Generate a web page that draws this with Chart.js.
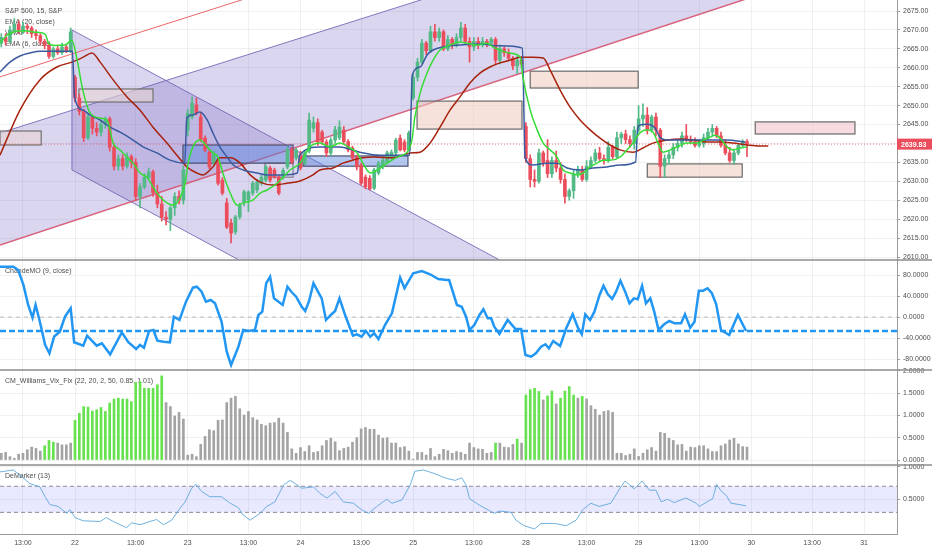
<!DOCTYPE html>
<html>
<head>
<meta charset="utf-8">
<title>S&amp;P 500, 15</title>
<script src="https://cdn.jsdelivr.net/npm/chart.js@4.4.1/dist/chart.umd.min.js"></script>
<style>
    html, body { margin: 0; padding: 0; background: #ffffff; }
    #wrap { width: 932px; height: 550px; }
</style>
</head>
<body>
<div id="wrap"><canvas id="spxChart" width="932" height="550"></canvas></div>
<script>
'use strict';

/* S&P 500, 15 min, four panes
 * ---------------------------
 * x values are bar numbers, 0 = first 15 min bar on screen
 */

// time axis
var tickIdx = [5, 17, 31, 43, 57, 69, 83, 95, 109, 121, 135, 147, 161, 173, 187, 199];
var tickLabels = ['13:00', '22', '13:00', '23', '13:00', '24', '13:00', '25',
    '13:00', '28', '13:00', '29', '13:00', '30', '13:00', '31'];

// price axis ticks, and the oscillator axes
var priceTicks = [2610, 2615, 2620, 2625, 2630, 2635, 2640, 2645, 2650, 2655, 2660, 2665, 2670, 2675];
var cmoTicks = [-80, -40, 0, 40, 80];
var vixTicks = [0, 0.5, 1, 1.5, 2];
var demTicks = [0.5, 1];

// candles, one line per session
var opens = [
    2666.5, 2668, 2667, 2670, 2671.5, 2670, 2671, 2670.5, 2669, 2668.5, 2667, 2666, 2663, 2665, 2664, 2665.5, 2664.5,
    2657.5, 2652, 2648.5, 2641.5, 2647, 2644, 2643, 2645, 2646.5, 2639, 2634, 2636, 2634, 2636.5, 2635, 2626, 2628.5, 2631, 2632.5, 2627, 2624, 2620.5, 2620, 2623, 2626, 2625,
    2643.6, 2647, 2650.2, 2647, 2641.4, 2637.7, 2635, 2635.1, 2630.3, 2624.3, 2619, 2616.6, 2620.6, 2624.3, 2625.1, 2626.9, 2627.7, 2629.5, 2630.3, 2633.5, 2633, 2631.1, 2631.1, 2633.8, 2638.3, 2636.2,
    2636.9, 2634.8, 2638, 2644, 2645.5, 2643, 2640.4, 2637.5, 2640.9, 2641.5, 2643.5, 2640.5, 2638.8, 2636.4, 2634.3, 2631.1, 2630.8, 2628.2, 2632.2, 2633.8, 2635, 2636.2, 2637.5, 2641.4, 2640.4, 2638.3,
    2652, 2657.5, 2661.5, 2666.5, 2664.5, 2669.5, 2668, 2669.5, 2665, 2667.5, 2666, 2668, 2670.5, 2667, 2665.5, 2667, 2666, 2667, 2666.5, 2667.5, 2662, 2665, 2664, 2662.5, 2660.5, 2662,
    2644.5, 2636, 2630.5, 2630, 2637.5, 2635.5, 2632, 2635.5, 2633.5, 2630.5, 2626, 2627.5, 2632, 2633, 2630.5, 2634, 2635.5, 2637.5, 2636, 2635.5, 2639, 2636.5, 2641.5, 2642.5, 2641, 2640,
    2643.5, 2646.5, 2647.5, 2643.5, 2647, 2643.5, 2634, 2636, 2637, 2639, 2640, 2642, 2641, 2640.5, 2639.5, 2640, 2641.5, 2643, 2644, 2642, 2639.5, 2637.5, 2635.5, 2637.5, 2639.5, 2640.5
];
var highs = [
    2669, 2669, 2671, 2673, 2672.5, 2672, 2671.5, 2671, 2670, 2669, 2667.5, 2666.5, 2665.5, 2666, 2666.5, 2666, 2670.5,
    2658, 2653, 2649, 2648, 2647.5, 2645.5, 2646, 2647, 2647, 2640, 2637, 2637, 2637.5, 2637, 2636, 2629.5, 2632, 2633.5, 2633, 2629, 2626, 2622, 2623.5, 2627, 2627.5, 2634,
    2649, 2652.3, 2652, 2648, 2642, 2638.5, 2638, 2636, 2631, 2625.5, 2620, 2621, 2624.2, 2627.7, 2627.5, 2630, 2630.5, 2631.6, 2634.3, 2634, 2633.5, 2631.6, 2633.5, 2639, 2639, 2638.8,
    2638, 2638, 2648, 2647, 2646.5, 2643.5, 2641, 2641.5, 2644.5, 2646, 2644.5, 2641, 2639.3, 2636.9, 2634.8, 2631.7, 2631.5, 2633.5, 2635.3, 2636.2, 2638, 2638.3, 2641.4, 2642.3, 2641, 2643.3,
    2658.5, 2662.5, 2667.5, 2667, 2671, 2671.5, 2670.5, 2670, 2668.5, 2668, 2669, 2672, 2671.5, 2668, 2668, 2668, 2668, 2667.5, 2668, 2668, 2666, 2665.5, 2665, 2663, 2663, 2663,
    2645.5, 2637, 2633, 2638.5, 2638, 2641, 2636.5, 2638, 2635, 2632, 2628, 2633, 2634, 2634, 2635.5, 2636.5, 2638.5, 2639, 2637, 2640.5, 2639.5, 2643, 2643, 2643.5, 2642, 2644.5,
    2650, 2650.5, 2649.5, 2647.5, 2648, 2644, 2637, 2638, 2640, 2641, 2643, 2645, 2642, 2641.5, 2641, 2642.5, 2644, 2645, 2644.5, 2643, 2641, 2639, 2638.5, 2640, 2641, 2641
];
var lows = [
    2665.5, 2666, 2666.5, 2669.5, 2669, 2669, 2669, 2668, 2667.5, 2666, 2665, 2662.5, 2662.5, 2663.5, 2663.5, 2664, 2664,
    2651, 2647.5, 2640.5, 2641, 2642.5, 2642, 2642, 2644, 2638, 2633, 2633, 2633, 2633.5, 2633.5, 2625, 2623, 2628, 2630.5, 2626, 2623, 2619.5, 2618.5, 2617, 2621, 2624, 2624,
    2642, 2646.5, 2647.5, 2640.5, 2637.8, 2633.3, 2634.5, 2629, 2626.4, 2617.5, 2613.7, 2616, 2620, 2623.5, 2622, 2626.3, 2627, 2629, 2629.8, 2629.8, 2630.8, 2626.4, 2630.5, 2633.3, 2634.6, 2635.6,
    2633, 2634.3, 2637.5, 2643, 2639.5, 2639.8, 2636.5, 2636.9, 2640, 2641, 2640, 2637.8, 2635.6, 2633, 2629, 2628, 2627.7, 2627.8, 2631.7, 2633.3, 2634.6, 2635.8, 2637, 2638, 2637.8, 2638,
    2651.5, 2656.5, 2661, 2663.5, 2664, 2667, 2667, 2664.5, 2664.5, 2665, 2665.5, 2667, 2666.5, 2661.5, 2664.5, 2665, 2665.5, 2665.5, 2666, 2661, 2661, 2663, 2662, 2659.5, 2658.5, 2660,
    2635, 2628.5, 2628.5, 2629.5, 2634, 2631, 2631, 2632.5, 2629.5, 2624.2, 2625, 2625.5, 2631, 2630, 2630, 2633.5, 2635, 2635.5, 2634.5, 2635, 2636, 2636, 2640, 2640, 2639, 2638.5,
    2643, 2644.5, 2642.5, 2643, 2642, 2631, 2631, 2634.5, 2636, 2638, 2639, 2640.5, 2640, 2639, 2639, 2639, 2641, 2642, 2641.5, 2639, 2637, 2635, 2634.5, 2637, 2639, 2636.5
];
var closes = [
    2668, 2667, 2670, 2671.5, 2670, 2671, 2670.5, 2669, 2668.5, 2667, 2666, 2663, 2665, 2664, 2665.5, 2664.5, 2669.5,
    2652, 2648.5, 2641.5, 2647, 2644, 2643, 2645, 2646.5, 2639, 2634, 2636, 2634, 2636.5, 2635, 2626, 2628.5, 2631, 2632.5, 2627, 2624, 2620.5, 2620, 2623, 2626, 2625, 2633,
    2648, 2650.7, 2648, 2641, 2638.3, 2633.8, 2637, 2629.5, 2626.9, 2617.9, 2616.3, 2620.6, 2623.7, 2627.2, 2627.2, 2629.5, 2629.8, 2631.1, 2633.8, 2630.3, 2631.1, 2626.9, 2632.9, 2638.3, 2635.1, 2638.3,
    2633.5, 2637.5, 2646.2, 2645.5, 2640.4, 2640.4, 2637.5, 2640.9, 2643.6, 2644.3, 2640.5, 2638.3, 2636.2, 2633.8, 2629.5, 2628.5, 2628, 2633, 2634.8, 2635.6, 2637.5, 2637.7, 2640.9, 2638.3, 2638.3, 2642.8,
    2657.5, 2661.5, 2666.5, 2664.5, 2669.5, 2668, 2669.5, 2665, 2667.5, 2666, 2668, 2670.5, 2667, 2665.5, 2667, 2666, 2667, 2666.5, 2667.5, 2662, 2665, 2664, 2662.5, 2660.5, 2662, 2661,
    2636, 2630.5, 2630, 2637.5, 2635, 2632, 2635.5, 2633.5, 2630.5, 2626, 2627.5, 2632, 2633, 2630.5, 2634, 2635.5, 2637.5, 2636, 2635.5, 2639, 2636.5, 2641.5, 2642.5, 2641, 2640, 2643.5,
    2646.5, 2647.5, 2643.5, 2647, 2643.5, 2634, 2636, 2637, 2639, 2640, 2642, 2641, 2640.5, 2639.5, 2640, 2641.5, 2643, 2644, 2642, 2639.5, 2637.5, 2635.5, 2637.5, 2639.5, 2640.5, 2639.83
];

// overlays: [bar, price]
var emaFast = [[-0.3, 2666.5], [1.3, 2668.6], [3.2, 2669.6], [5.5, 2669.8], [7.8, 2669.4], [10.1, 2668.9], [11.0, 2666.3], [12.4, 2665.9], [14.7, 2666.0],
    [16.3, 2667.3], [17.5, 2662.0], [18.8, 2654.1], [20.5, 2648.0], [22.8, 2646.7], [24.4, 2646.2], [25.8, 2640.1], [27.4, 2638.3],
    [29.0, 2636.4], [30.4, 2634.8], [32.0, 2632.2], [33.6, 2631.1], [35.0, 2628.5], [36.6, 2625.9], [38.2, 2624.3], [39.6, 2623.7],
    [41.2, 2625.6], [42.4, 2629.5], [43.1, 2634.8], [44.2, 2639.1], [45.8, 2640.9], [47.5, 2639.1], [48.8, 2637.5], [50.0, 2636.4],
    [51.1, 2632.2], [52.8, 2626.9], [54.4, 2623.7], [55.8, 2624.3], [58.1, 2625.1], [59.7, 2626.9], [61.3, 2627.7], [63.6, 2629.5],
    [65.0, 2631.1], [66.6, 2633.0], [68.9, 2634.8], [71.2, 2639.1], [73.5, 2640.1], [75.8, 2639.1], [78.1, 2640.1], [80.4, 2638.8],
    [82.1, 2637.5], [83.4, 2634.8], [85.1, 2632.2], [86.7, 2633.0], [89.0, 2634.8], [91.3, 2636.4], [93.6, 2637.7], [94.7, 2640.9],
    [95.4, 2647.0], [96.6, 2653.3], [98.2, 2658.6], [99.6, 2662.0], [101.2, 2664.7], [103.5, 2666.0], [105.8, 2666.8], [107.4, 2666.5],
    [109.7, 2666.0], [112.0, 2666.5], [113.4, 2665.5], [115.0, 2664.7], [117.3, 2663.9], [119.7, 2662.8], [120.3, 2657.6], [122.0, 2648.8],
    [123.6, 2643.6], [125.0, 2640.1], [126.6, 2638.3], [128.2, 2636.4], [129.6, 2633.0], [131.2, 2632.2], [132.8, 2631.7], [134.2, 2632.2],
    [135.8, 2633.8], [137.4, 2634.8], [138.8, 2635.6], [140.4, 2635.6], [142.7, 2636.4], [144.3, 2638.3], [145.7, 2640.1], [147.3, 2642.8],
    [148.9, 2643.6], [150.3, 2643.0], [151.5, 2640.1], [152.6, 2637.7], [154.3, 2638.3], [155.9, 2639.1], [158.2, 2640.1], [160.5, 2640.1],
    [161.9, 2640.9], [163.5, 2641.7], [164.6, 2642.2], [165.8, 2641.4], [167.4, 2639.1], [168.8, 2638.3], [170.4, 2638.8], [172.0, 2639.1]];

var vwap = [[-0.3, 2658.9], [2.0, 2661.5], [4.3, 2663.1], [6.6, 2663.9], [8.9, 2664.4], [12.4, 2664.4], [16.4, 2664.4],
    [16.9, 2652.3], [18.9, 2648.8], [20.5, 2647.5], [22.8, 2646.2], [25.1, 2644.3], [27.4, 2643.0], [30.4, 2640.9], [32.7, 2639.1],
    [35.9, 2637.5], [38.9, 2635.6], [42.3, 2634.8],
    [42.8, 2646.7], [44.0, 2647.5], [45.8, 2648.3], [47.5, 2646.2], [48.8, 2642.8], [50.4, 2639.1], [52.1, 2636.4], [53.5, 2634.3],
    [55.8, 2633.0], [59.0, 2632.2], [61.3, 2631.7], [65.0, 2631.7], [68.3, 2632.2],
    [68.8, 2636.9], [73.5, 2639.1], [78.1, 2639.1], [82.7, 2637.7], [87.4, 2636.9], [94.2, 2636.9],
    [94.8, 2658.1], [96.6, 2660.2], [98.2, 2663.4], [99.6, 2664.7], [101.9, 2665.5], [105.8, 2666.0], [110.4, 2666.3], [115.0, 2665.8], [120.2, 2665.2],
    [120.8, 2636.4], [122.6, 2634.3], [125.9, 2634.8], [128.2, 2634.8], [130.5, 2633.5], [133.5, 2633.0], [136.5, 2633.5], [139.7, 2633.8],
    [142.7, 2634.3], [146.3, 2635.1],
    [146.8, 2644.1], [147.3, 2644.9], [148.9, 2645.1], [150.8, 2644.1], [151.9, 2641.7], [153.6, 2640.9], [159.6, 2640.9], [167.4, 2640.9], [171.6, 2640.4]];

var emaSlow = [[-0.3, 2636.9], [4.3, 2648.8], [8.9, 2656.8], [12.8, 2660.2], [16.3, 2661.5], [18.9, 2662.8], [20.9, 2663.9], [22.8, 2661.5],
    [25.8, 2656.8], [29.0, 2652.3], [32.0, 2648.8], [35.0, 2644.3], [38.2, 2640.1], [40.5, 2636.9], [42.8, 2633.8], [45.1, 2632.2],
    [46.5, 2631.7], [48.8, 2633.8], [50.4, 2636.2], [52.8, 2636.2], [55.1, 2634.8], [57.4, 2631.7], [59.7, 2629.8], [62.7, 2629.0],
    [65.9, 2629.5], [68.9, 2630.1], [71.9, 2631.7], [73.5, 2633.0], [76.5, 2633.5], [78.8, 2634.8], [81.1, 2635.6], [83.4, 2636.2],
    [85.8, 2636.4], [90.4, 2636.2], [94.3, 2637.5], [96.6, 2637.7], [98.9, 2640.1], [101.2, 2644.3], [103.5, 2648.8], [105.8, 2652.3],
    [108.1, 2656.0], [110.4, 2658.6], [112.7, 2660.2], [115.0, 2661.3], [117.3, 2662.0], [119.7, 2662.8], [122.7, 2662.8], [125.0, 2662.6],
    [126.6, 2659.4], [128.9, 2654.1], [131.2, 2649.6], [133.5, 2646.2], [135.8, 2643.6], [138.1, 2641.4], [140.4, 2639.6], [142.7, 2638.3],
    [145.7, 2637.7], [148.0, 2638.8], [150.3, 2640.1], [153.6, 2640.9], [156.6, 2641.2], [159.6, 2640.9], [162.8, 2640.4], [165.8, 2640.4],
    [168.8, 2640.1], [172.0, 2639.6], [175.0, 2639.3], [176.9, 2639.3]];

// Chande momentum oscillator [bar, value] and its dashed level
var cmo = [[-0.3, 96.6], [2.8, 96.6], [3.9, 90], [5.1, 61.6], [6.2, 23.3], [7.2, -1], [7.9, 23.3], [8.8, -5.4], [10.1, -53], [11.1, -69],
    [12.2, -37], [13.5, -27.7], [14.7, 1], [16.0, 17], [16.8, -48], [18.9, -54.5], [19.8, -35.4], [22.0, -54.5], [23.2, -50], [25.1, -71],
    [27.8, -29], [29.3, -48], [31.1, -60.8], [32.0, -53], [32.9, -58.3], [34.1, -26.4], [35.1, -24.5], [36.0, -45], [37.4, -46.8], [38.9, -48],
    [39.8, 1], [41.1, -5.4], [42.6, 29.6], [44.2, 56.4], [45.1, 58.3], [46.2, 48.8], [47.2, 29.6], [48.3, 32.9], [49.3, 26.6], [50.8, -8.6],
    [52.0, -66], [53.0, -91.4], [54.7, -56.4], [55.8, -24.5], [57.0, -26.4], [58.5, -24.5], [59.3, 4.2], [60.2, 10.5], [61.1, 64.8], [62.0, 77.4],
    [62.9, 36], [64.9, 23.3], [66.0, 58.3], [67.0, 47.6], [68.0, 39.2], [69.3, 20], [70.1, 11.9], [71.0, 31], [72.0, 64.8], [73.9, 36],
    [74.9, -5.4], [76.0, 4.2], [77.0, 11.9], [78.0, 36], [79.3, 4.2], [81.1, -35.4], [82.0, -32.7], [83.1, -37.3], [84.1, -26.4], [85.1, -37.3],
    [86.0, -30.8], [87.0, -41.7], [88.5, -15], [90.1, 7.4], [92.0, 75.5], [93.0, 55.3], [95.0, 84], [97.0, 88.3], [98.9, 82], [100.8, 73],
    [102.7, 71], [103.3, 71], [105.1, 23.3], [106.2, 20], [107.2, 1], [108.0, -24.5], [109.1, -15], [110.3, 4.2], [111.2, 15.1], [112.2, -2.1],
    [113.0, -2.1], [113.7, -18.2], [114.9, -32], [116.8, -5.4], [118.6, -22.6], [119.9, -22.6], [120.9, -72.3], [122.2, -75.5], [123.3, -69], [124.5, -56.4],
    [125.5, -51.8], [126.3, -59.5], [127.3, -45.5], [128.9, -55], [130.3, -21.2], [131.8, 5.5], [133.0, -20], [133.9, -32.7], [134.7, 5.5], [135.8, -5.4],
    [136.8, 10.5], [138.0, 42.4], [138.9, 60.2], [139.9, 43.8], [140.9, 34.8], [141.8, 48.8], [142.8, 69.8], [143.9, 48.8], [144.9, 26.6], [145.9, 36],
    [146.8, 34.2], [147.8, 60.2], [148.7, 26.6], [149.7, 36], [150.6, 10.5], [151.6, -24.5], [152.9, -13.6], [154.1, -7.3], [155.3, -11.7], [156.8, -11.7],
    [157.7, 5.5], [158.9, -20], [159.9, -8.6], [160.9, 50.7], [161.9, 50.7], [162.9, 55.3], [163.9, 45.7], [164.9, 24.7], [166.0, -24.5], [167.9, -34],
    [169.9, 4.2], [171.8, -26.4]];
var cmoLevel = -26.4;

// Williams Vix Fix, one value per bar, and the bars painted green
var vixValues = [
    0.15, 0.17, 0.075, 0.04, 0.13, 0.15, 0.23, 0.29, 0.26, 0.2,
    0.32, 0.44, 0.4, 0.38, 0.34, 0.34, 0.38, 0.89, 1.05, 1.2,
    1.19, 1.1, 1.13, 1.18, 1.09, 1.28, 1.37, 1.39, 1.37, 1.37,
    1.31, 1.74, 1.76, 1.61, 1.61, 1.61, 1.69, 1.89, 1.29, 1.2,
    0.99, 1.07, 0.92, 0.11, 0.13, 0.075, 0.35, 0.53, 0.68, 0.66,
    0.89, 0.9, 1.29, 1.39, 1.43, 1.15, 1.01, 1.09, 0.95, 0.9,
    0.8, 0.77, 0.83, 0.84, 0.94, 0.83, 0.62, 0.25, 0.15, 0.28,
    0.19, 0.32, 0.17, 0.19, 0.32, 0.44, 0.49, 0.41, 0.21, 0.26,
    0.29, 0.4, 0.5, 0.7, 0.73, 0.69, 0.69, 0.56, 0.49, 0.5,
    0.38, 0.38, 0.28, 0.3, 0.2, 0.02, 0.17, 0.17, 0.11, 0.26,
    0.075, 0.13, 0.24, 0.21, 0.15, 0.19, 0.17, 0.13, 0.38, 0.28,
    0.25, 0.24, 0.15, 0.17, 0.38, 0.38, 0.29, 0.28, 0.35, 0.47,
    0.38, 1.46, 1.58, 1.61, 1.54, 1.35, 1.44, 1.55, 1.26, 1.39,
    1.55, 1.65, 1.46, 1.39, 1.43, 1.37, 1.22, 1.14, 1.01, 1.09,
    1.11, 1.07, 0.15, 0.15, 0.1, 0.13, 0.25, 0.08, 0.15, 0.23,
    0.28, 0.2, 0.62, 0.6, 0.49, 0.44, 0.34, 0.35, 0.2, 0.29,
    0.28, 0.32, 0.32, 0.25, 0.19, 0.19, 0.32, 0.36, 0.45, 0.49,
    0.36, 0.3, 0.29
];
var vixGreen = [10, 11, 12, 17, 18, 19, 20, 21, 22, 23, 24, 25, 26, 27, 28, 29, 30, 31, 32, 33, 34, 35, 36, 37,
    114, 119, 121, 122, 123, 124, 126, 127, 129, 130, 131, 132, 134];

// DeMarker [bar, value] and its band
var dem = [[-0.3, 0.92], [2.8, 0.95], [4.3, 0.87], [6.6, 0.74], [8.9, 0.69], [10.1, 0.54], [11.2, 0.42], [13.1, 0.39], [15.1, 0.285], [15.8, 0.34],
    [17.0, 0.22], [18.9, 0.17], [22.8, 0.16], [24.2, 0.22], [25.8, 0.16], [28.9, 0.065], [30.1, 0.14], [32.0, 0.11], [34.3, 0.16], [35.8, 0.19],
    [37.4, 0.11], [39.3, 0.18], [41.2, 0.36], [42.4, 0.46], [43.9, 0.67], [44.9, 0.73], [46.2, 0.62], [48.1, 0.54], [50.8, 0.54], [52.8, 0.44],
    [54.7, 0.37], [55.8, 0.26], [57.4, 0.18], [59.7, 0.285], [61.2, 0.39], [63.1, 0.46], [65.1, 0.72], [66.6, 0.79], [67.8, 0.74], [69.3, 0.67],
    [72.0, 0.69], [73.5, 0.59], [75.1, 0.52], [77.0, 0.62], [78.9, 0.46], [81.2, 0.44], [83.1, 0.34], [84.7, 0.285], [86.6, 0.39], [88.9, 0.5],
    [90.1, 0.44], [92.4, 0.49], [94.3, 0.72], [95.4, 0.93], [97.3, 0.95], [99.7, 0.9], [102.7, 0.82], [104.7, 0.79], [106.2, 0.83], [107.2, 0.72],
    [108.0, 0.51], [110.3, 0.41], [113.7, 0.285], [114.9, 0.32], [117.6, 0.3], [118.7, 0.18], [120.6, 0.095], [123.0, 0.045], [124.5, 0.13], [127.6, 0.13],
    [130.3, 0.095], [132.6, 0.18], [134.1, 0.34], [136.0, 0.44], [137.9, 0.39], [140.6, 0.44], [142.9, 0.69], [143.9, 0.78], [146.0, 0.66], [147.8, 0.78],
    [149.5, 0.64], [151.0, 0.64], [152.2, 0.46], [153.7, 0.5], [155.2, 0.45], [157.9, 0.52], [160.3, 0.44], [161.0, 0.39], [163.3, 0.48], [164.1, 0.51],
    [165.0, 0.73], [166.0, 0.63], [167.2, 0.56], [168.3, 0.44], [170.2, 0.42], [171.8, 0.40]];
var demUpper = 0.7;
var demLower = 0.3;

// drawings on the price pane: [bar1, price1, bar2, price2]
var ascUpper = [-0.3, 2642.76, 100, 2679.1];
var ascLower = [-0.3, 2613.17, 175, 2679.4];
var descUpper = [16.3, 2670.0, 120, 2606.1];
var descLower = [16.3, 2633.0, 60, 2606.0];
var trendLine = [-0.3, 2657.6, 60, 2679.6];

// boxes drawn on the price pane
var zoneFrom = [-0.3, 17.9, 41.9, 60.8, 69.6, 95.9, 122.0, 149.0, 173.9];
var zoneTo = [9.2, 35.0, 67.3, 67.3, 93.8, 120.1, 146.9, 170.9, 196.9];
var zoneHigh = [2643.3, 2654.4, 2639.6, 2634.8, 2636.7, 2651.2, 2659.1, 2634.6, 2645.7];
var zoneLow = [2639.6, 2650.95, 2634.8, 2631.1, 2634.0, 2643.8, 2654.65, 2631.1, 2642.5];
var zoneKind = ['grey', 'grey', 'blue', 'outline', 'blue', 'peach', 'peach', 'peach', 'rose'];

var paneTitles = {
    y: ['S&P 500, 15, S&P', 'EMA (20, close)', 'VWAP', 'EMA (6, close)'],
    yCmo: ['ChandeMO (9, close)'],
    yVix: ['CM_Williams_Vix_Fix (22, 20, 2, 50, 0.85, 1.01)'],
    yDem: ['DeMarker (13)']
};

/* look */
var X_MIN = -0.3, X_MAX = 206.6;
var UP = '#53b987', DOWN = '#eb4d5c';
var FONT_FAMILY = '"Liberation Sans", Arial, sans-serif';
var GRID = 'rgba(42,46,57,0.07)';
var AXIS = '#9b9b9b';
var TEXT = '#4e4e4e';
var zoneStyle = {
    grey: { fill: 'rgba(232,212,212,0.6)', line: '#707070' },
    peach: { fill: 'rgba(238,200,190,0.55)', line: '#6a6a6a' },
    rose: { fill: 'rgba(240,196,204,0.6)', line: '#6a6a6a' },
    blue: { fill: 'rgba(86,130,222,0.45)', line: '#4a5070' },
    outline: { fill: 'rgba(0,0,0,0)', line: 'rgba(90,90,110,0.7)' }
};

function pts(list) {
    return list.map(function (p) { return { x: p[0], y: p[1] }; });
}
function level(v) {
    return [{ x: X_MIN, y: v }, { x: X_MAX, y: v }];
}
function keepTicks(list) {
    return function (scale) {
        scale.ticks = list.map(function (v) { return { value: v }; });
    };
}
// fixed axis size, and no extra room for the outer tick labels
function fixWidth(scale) {
    scale.width = 35;
    scale.paddingTop = 0;
    scale.paddingBottom = 0;
}

function paneAxis(weight, min, max, list, digits) {
    return {
        position: 'right',
        stack: 'panes',
        stackWeight: weight,
        min: min,
        max: max,
        afterBuildTicks: keepTicks(list),
        afterFit: fixWidth,
        ticks: {
            autoSkip: false, color: TEXT, padding: 3,
            font: { size: 7, family: FONT_FAMILY },
            callback: function (v) { return Number(v).toFixed(digits); }
        },
        grid: { color: GRID, tickColor: AXIS, tickLength: 3 },
        border: { color: AXIS }
    };
}

function seg(ctx, xs, ys, s) {
    ctx.beginPath();
    ctx.moveTo(xs.getPixelForValue(s[0]), ys.getPixelForValue(s[1]));
    ctx.lineTo(xs.getPixelForValue(s[2]), ys.getPixelForValue(s[3]));
    ctx.stroke();
}
function channel(ctx, xs, ys, up, lo, fill) {
    ctx.beginPath();
    ctx.moveTo(xs.getPixelForValue(up[0]), ys.getPixelForValue(up[1]));
    ctx.lineTo(xs.getPixelForValue(up[2]), ys.getPixelForValue(up[3]));
    ctx.lineTo(xs.getPixelForValue(lo[2]), ys.getPixelForValue(lo[3]));
    ctx.lineTo(xs.getPixelForValue(lo[0]), ys.getPixelForValue(lo[1]));
    ctx.closePath();
    ctx.fillStyle = fill;
    ctx.fill();
}

// channels, boxes and pane titles go under the candles
var drawingsPlugin = {
    id: 'drawings',
    beforeDatasetsDraw: function (chart) {
        var ctx = chart.ctx, xs = chart.scales.x, ys = chart.scales.y, area = chart.chartArea;
        ctx.save();
        ctx.beginPath();
        ctx.rect(area.left, ys.top, area.right - area.left, ys.bottom - ys.top);
        ctx.clip();

        channel(ctx, xs, ys, ascUpper, ascLower, 'rgba(110,90,190,0.25)');
        channel(ctx, xs, ys, descUpper, descLower, 'rgba(110,90,190,0.25)');

        ctx.lineWidth = 1;
        ctx.strokeStyle = 'rgba(105,90,175,0.8)';
        seg(ctx, xs, ys, ascUpper);
        seg(ctx, xs, ys, descUpper);
        seg(ctx, xs, ys, descLower);
        seg(ctx, xs, ys, [descUpper[0], descUpper[1], descLower[0], descLower[1]]);
        ctx.strokeStyle = 'rgba(214,84,112,0.9)';
        ctx.lineWidth = 1.5;
        seg(ctx, xs, ys, ascLower);
        ctx.strokeStyle = 'rgba(232,86,86,0.9)';
        ctx.lineWidth = 1;
        seg(ctx, xs, ys, trendLine);

        for (var k = 0; k < zoneFrom.length; k++) {
            var st = zoneStyle[zoneKind[k]];
            var x1 = xs.getPixelForValue(zoneFrom[k]), x2 = xs.getPixelForValue(zoneTo[k]);
            var y1 = ys.getPixelForValue(zoneHigh[k]), y2 = ys.getPixelForValue(zoneLow[k]);
            ctx.fillStyle = st.fill;
            ctx.fillRect(x1, y1, x2 - x1, y2 - y1);
            ctx.strokeStyle = st.line;
            ctx.lineWidth = 1.2;
            ctx.strokeRect(x1, y1, x2 - x1, y2 - y1);
        }
        ctx.restore();

        ctx.save();
        ctx.font = '7px ' + FONT_FAMILY;
        ctx.fillStyle = TEXT;
        ctx.textBaseline = 'middle';
        Object.keys(paneTitles).forEach(function (id) {
            var sc = chart.scales[id];
            paneTitles[id].forEach(function (t, n) {
                ctx.fillText(t, 5, sc.top + 11 + n * 11);
            });
        });
        ctx.restore();
    },
    afterDraw: function (chart) {
        var ctx = chart.ctx, area = chart.chartArea;
        ctx.save();
        ctx.strokeStyle = '#8e8e8e';
        ctx.lineWidth = 1.5;
        ['y', 'yCmo', 'yVix'].forEach(function (id) {
            var yb = Math.round(chart.scales[id].bottom);
            ctx.beginPath();
            ctx.moveTo(0, yb);
            ctx.lineTo(chart.width, yb);
            ctx.stroke();
        });
        // last price tag
        var last = closes[closes.length - 1];
        var py = chart.scales.y.getPixelForValue(last);
        ctx.fillStyle = DOWN;
        ctx.fillRect(area.right, py - 5.5, chart.width - area.right, 11);
        ctx.fillStyle = '#ffffff';
        ctx.font = 'bold 7px ' + FONT_FAMILY;
        ctx.textBaseline = 'middle';
        ctx.fillText(last.toFixed(2), area.right + 4, py + 0.5);
        ctx.restore();
    }
};

var bodyColors = closes.map(function (c, i) { return c >= opens[i] ? UP : DOWN; });
var vixColors = vixValues.map(function (v, i) { return vixGreen.indexOf(i) >= 0 ? '#66e24f' : '#a3a3a3'; });

var ctx = document.getElementById('spxChart').getContext('2d');
var spxChart = new Chart(ctx, {
    type: 'line',
    data: {
        datasets: [{
            label: 'EMA (6, close)', data: pts(emaFast), yAxisID: 'y', order: 1,
            borderColor: '#36dc36', borderWidth: 1.5, pointRadius: 0, cubicInterpolationMode: 'monotone'
        }, {
            label: 'VWAP', data: pts(vwap), yAxisID: 'y', order: 2,
            borderColor: '#3a5aa0', borderWidth: 1.5, pointRadius: 0, cubicInterpolationMode: 'monotone'
        }, {
            label: 'EMA (20, close)', data: pts(emaSlow), yAxisID: 'y', order: 3,
            borderColor: '#a8230e', borderWidth: 1.5, pointRadius: 0, cubicInterpolationMode: 'monotone'
        }, {
            type: 'bar', label: 'body', yAxisID: 'y', order: 4,
            data: closes.map(function (c, i) { return { x: i, y: [opens[i], c] }; }),
            backgroundColor: bodyColors, barThickness: 3, minBarLength: 1, grouped: false, borderWidth: 0
        }, {
            type: 'bar', label: 'wick', yAxisID: 'y', order: 5,
            data: highs.map(function (h, i) { return { x: i, y: [lows[i], h] }; }),
            backgroundColor: bodyColors, barThickness: 1, grouped: false, borderWidth: 0
        }, {
            label: 'last', data: level(closes[closes.length - 1]), yAxisID: 'y', order: 6,
            borderColor: 'rgba(235,77,92,0.75)', borderWidth: 1, borderDash: [1, 2], pointRadius: 0
        }, {
            label: 'ChandeMO', data: pts(cmo), yAxisID: 'yCmo', order: 1,
            borderColor: '#2196f3', borderWidth: 2.5, pointRadius: 0, tension: 0
        }, {
            label: 'ChandeMO level', data: level(cmoLevel), yAxisID: 'yCmo', order: 2,
            borderColor: '#2196f3', borderWidth: 2.5, borderDash: [6, 3], pointRadius: 0
        }, {
            label: 'zero', data: level(0), yAxisID: 'yCmo', order: 3,
            borderColor: 'rgba(120,120,120,0.45)', borderWidth: 1, borderDash: [4, 4], pointRadius: 0
        }, {
            type: 'bar', label: 'Vix Fix', yAxisID: 'yVix', order: 4,
            data: vixValues.map(function (v, i) { return { x: i, y: v }; }),
            backgroundColor: vixColors, barThickness: 2, grouped: false, borderWidth: 0
        }, {
            label: 'DeM upper', data: level(demUpper), yAxisID: 'yDem', order: 3,
            borderColor: '#8a8a98', borderWidth: 1, borderDash: [4, 3], pointRadius: 0
        }, {
            label: 'DeM lower', data: level(demLower), yAxisID: 'yDem', order: 4,
            borderColor: '#8a8a98', borderWidth: 1, borderDash: [4, 3], pointRadius: 0,
            fill: '-1', backgroundColor: 'rgba(128,128,255,0.18)'
        }, {
            label: 'DeMarker', data: pts(dem), yAxisID: 'yDem', order: 0,
            borderColor: 'rgba(96,168,220,0.9)', borderWidth: 1, pointRadius: 0, tension: 0
        }]
    },
    options: {
        responsive: false,
        animation: false,
        events: [],
        layout: { padding: 0 },
        plugins: { legend: { display: false }, tooltip: { enabled: false } },
        scales: {
            x: {
                type: 'linear', min: X_MIN, max: X_MAX, offset: false,
                afterBuildTicks: keepTicks(tickIdx),
                afterFit: function (scale) {
                    scale.height = 16;
                    scale.paddingLeft = 0;
                    scale.paddingRight = 0;
                },
                ticks: {
                    autoSkip: false, maxRotation: 0, padding: 5, color: TEXT,
                    font: { size: 7, family: FONT_FAMILY },
                    callback: function (v) {
                        var k = tickIdx.indexOf(v);
                        return k < 0 ? '' : tickLabels[k];
                    }
                },
                grid: { color: GRID, drawTicks: false, offset: false },
                border: { color: AXIS }
            },
            y: paneAxis(260, 2609.21, 2677.91, priceTicks, 2),
            yCmo: paneAxis(110, -101, 109.3, cmoTicks, 4),
            yVix: paneAxis(95, -0.112, 2.022, vixTicks, 4),
            yDem: paneAxis(69, -0.032, 1.026, demTicks, 4)
        }
    },
    plugins: [drawingsPlugin]
});
</script>
</body>
</html>
